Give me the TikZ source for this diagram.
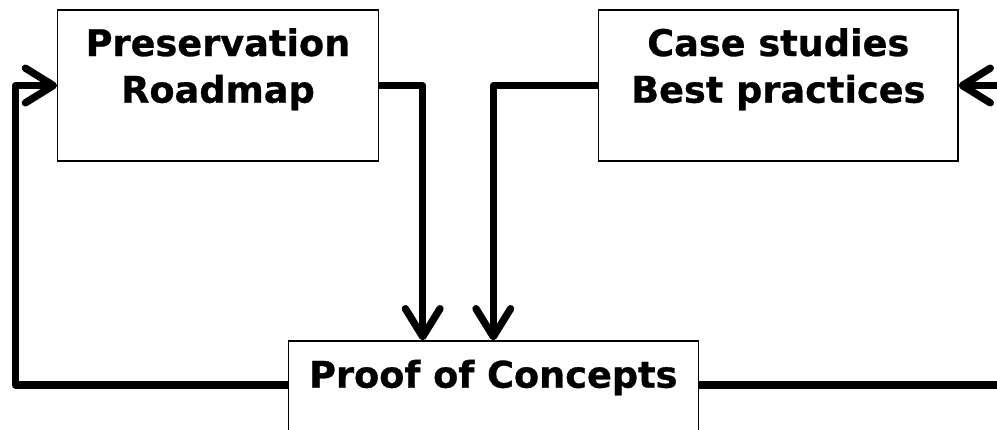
\documentclass[tikz,border=0pt]{standalone}
\usepackage{fontspec}
\setmainfont{DejaVu Sans}[BoldFeatures={FakeBold=0.8}]
\usetikzlibrary{arrows.meta,positioning}

\begin{document}
\begin{tikzpicture}[x=0.75pt, y=-0.75pt,
    box/.style = {draw, line width=1pt, minimum height=113.25pt, inner sep=0pt},
    boxline/.style = {font=\fontsize{27.5pt}{35pt}\selectfont\bfseries, inner sep=0pt},
    flow/.style = {line width=5.5pt, line join=round,
        -{Straight Barb[length=21pt, width=26pt, round]}}]
    \useasboundingbox (0,0) rectangle (997,429);

    \node[box, minimum width=240.4pt] (road) at (218,85.5) {};
    \node[box, minimum width=269.5pt] (case) at (778.3,85.5) {};
    \node[box, minimum width=307.5pt, minimum height=69pt] (poc) at (493.3,387) {};

    \node[boxline, anchor=base] (road1) at ([yshift=-35pt]road.north) {Preservation};
    \node[boxline, anchor=base] (road2) at ([yshift=-35pt]road1.base) {Roadmap};
    \node[boxline, anchor=base] (case1) at ([yshift=-35pt]case.north) {Case studies};
    \node[boxline, anchor=base] (case2) at ([yshift=-35pt]case1.base) {Best practices};
    \node[boxline, anchor=base] (poc1) at ([yshift=-35.5pt]poc.north) {Proof of Concepts};

    \coordinate (westbend) at (15.5,85.5);
    \coordinate (eastbend) at (1001,85.5);

    \draw[flow] ([yshift=1.5pt]poc.west) -| (westbend) |- (road.west);
    \draw[flow] (road.east) -| ([xshift=-52.95pt]poc.north);
    \draw[flow] (case.west) -| (poc.north);
    \draw[flow] ([yshift=1.5pt]poc.east) -| (eastbend) |- (case.east);
\end{tikzpicture}
\end{document}
